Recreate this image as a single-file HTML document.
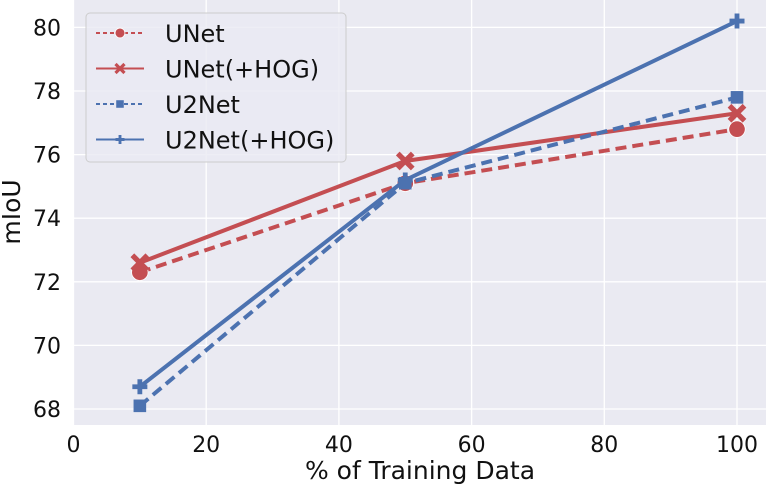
<!DOCTYPE html>
<html><head><meta charset="utf-8"><style>
body{margin:0;background:#fff;font-family:"Liberation Sans","DejaVu Sans",sans-serif;}
svg text{font-family:"DejaVu Sans","Liberation Sans",sans-serif;}
</style></head><body>
<svg id="chart" width="767" height="492" xmlns="http://www.w3.org/2000/svg">
<rect x="74" y="0" width="692" height="425" fill="#eaeaf2"/>
<g id="grid"></g><g id="ticks"></g><g id="series"></g>
<text x="420" y="479" font-size="25" text-anchor="middle" fill="#111">% of Training Data</text>
<text transform="translate(20,212) rotate(-90)" font-size="25" text-anchor="middle" fill="#111">mIoU</text>
<g>
<rect x="86" y="13" width="260" height="149" rx="4" fill="#eaeaf2" fill-opacity="0.8" stroke="#cccccc"/>
<g id="legend-items"></g>
</g>
</svg>
<script>
const xs=[10,50,100];
const seriesNames=["UNet","UNet(+HOG)","U2Net","U2Net(+HOG)"];
const unet=[72.3,75.1,76.8];
const unetHog=[72.6,75.8,77.3];
const u2net=[68.1,75.1,77.8];
const u2netHog=[68.7,75.2,80.2];
const xTicks=[0,20,40,60,80,100];
const yTicks=[68,70,72,74,76,78,80];
const NS="http://www.w3.org/2000/svg";
const X=v=>73.5+v*6.635, Y=v=>409-(v-68)*31.8;
function mk(t,a,p){const e=document.createElementNS(NS,t);for(const k in a)e.setAttribute(k,a[k]);(p||document.getElementById('series')).appendChild(e);return e;}
const grid=document.getElementById('grid'),ticks=document.getElementById('ticks');
xTicks.forEach(v=>{const l=mk('line',{x1:X(v),x2:X(v),y1:0,y2:425,stroke:'#fff','stroke-width':1.3},grid);


const t=mk('text',{x:X(v),y:452,'font-size':22,'text-anchor':'middle',fill:'#111'},ticks);t.textContent=v;

});
yTicks.forEach(v=>{const l=mk('line',{x1:74,x2:766,y1:Y(v),y2:Y(v),stroke:'#fff','stroke-width':1.3},grid);


const t=mk('text',{x:61,y:Y(v)+8,'font-size':22,'text-anchor':'end',fill:'#111'},ticks);t.textContent=v;

});
const red='#c44e52',blue='#4c72b0';
const cfg=[[unet,red,true,'circle'],[unetHog,red,false,'x'],[u2net,blue,true,'square'],[u2netHog,blue,false,'plus']];
function marker(type,x,y,c,s,g){
 let e;
 if(type==='circle')e=mk('circle',{cx:x,cy:y,r:s*0.55,fill:c,stroke:'#fff','stroke-width':0.8},g);
 else if(type==='square')e=mk('rect',{x:x-s*0.42,y:y-s*0.42,width:s*0.84,height:s*0.84,fill:c},g);
 else if(type==='x')e=mk('path',{d:`M${x-s/2},${y-s/2}L${x+s/2},${y+s/2}M${x+s/2},${y-s/2}L${x-s/2},${y+s/2}`,stroke:c,'stroke-width':s*0.35},g);
 else e=mk('path',{d:`M${x-s/2},${y}H${x+s/2}M${x},${y-s/2}V${y+s/2}`,stroke:c,'stroke-width':s*0.32},g);
 return e;
}
cfg.forEach((c,i)=>{
 const g=mk('g',{});
 
 
 const p=mk('polyline',{points:xs.map((x,j)=>X(x)+','+Y(c[0][j])).join(' '),fill:'none',stroke:c[1],'stroke-width':4,'stroke-dasharray':c[2]?'11,6':'none'},g);
 
 
 xs.forEach((x,j)=>{const m=marker(c[3],X(x),Y(c[0][j]),c[1],15,g);
 
 });
 const lg=document.getElementById('legend-items');
 const ly=33+i*35.5;
 const ll=mk('line',{x1:96,x2:144,y1:ly,y2:ly,stroke:c[1],'stroke-width':2,'stroke-dasharray':c[2]?'4,3':'none'},lg);
 
 
 marker(c[3],120,ly,c[1],9,lg);
 const t=mk('text',{x:165,y:ly+9,'font-size':24,fill:'#111'},lg);t.textContent=seriesNames[i];
 
 
});
</script>
</body></html>
